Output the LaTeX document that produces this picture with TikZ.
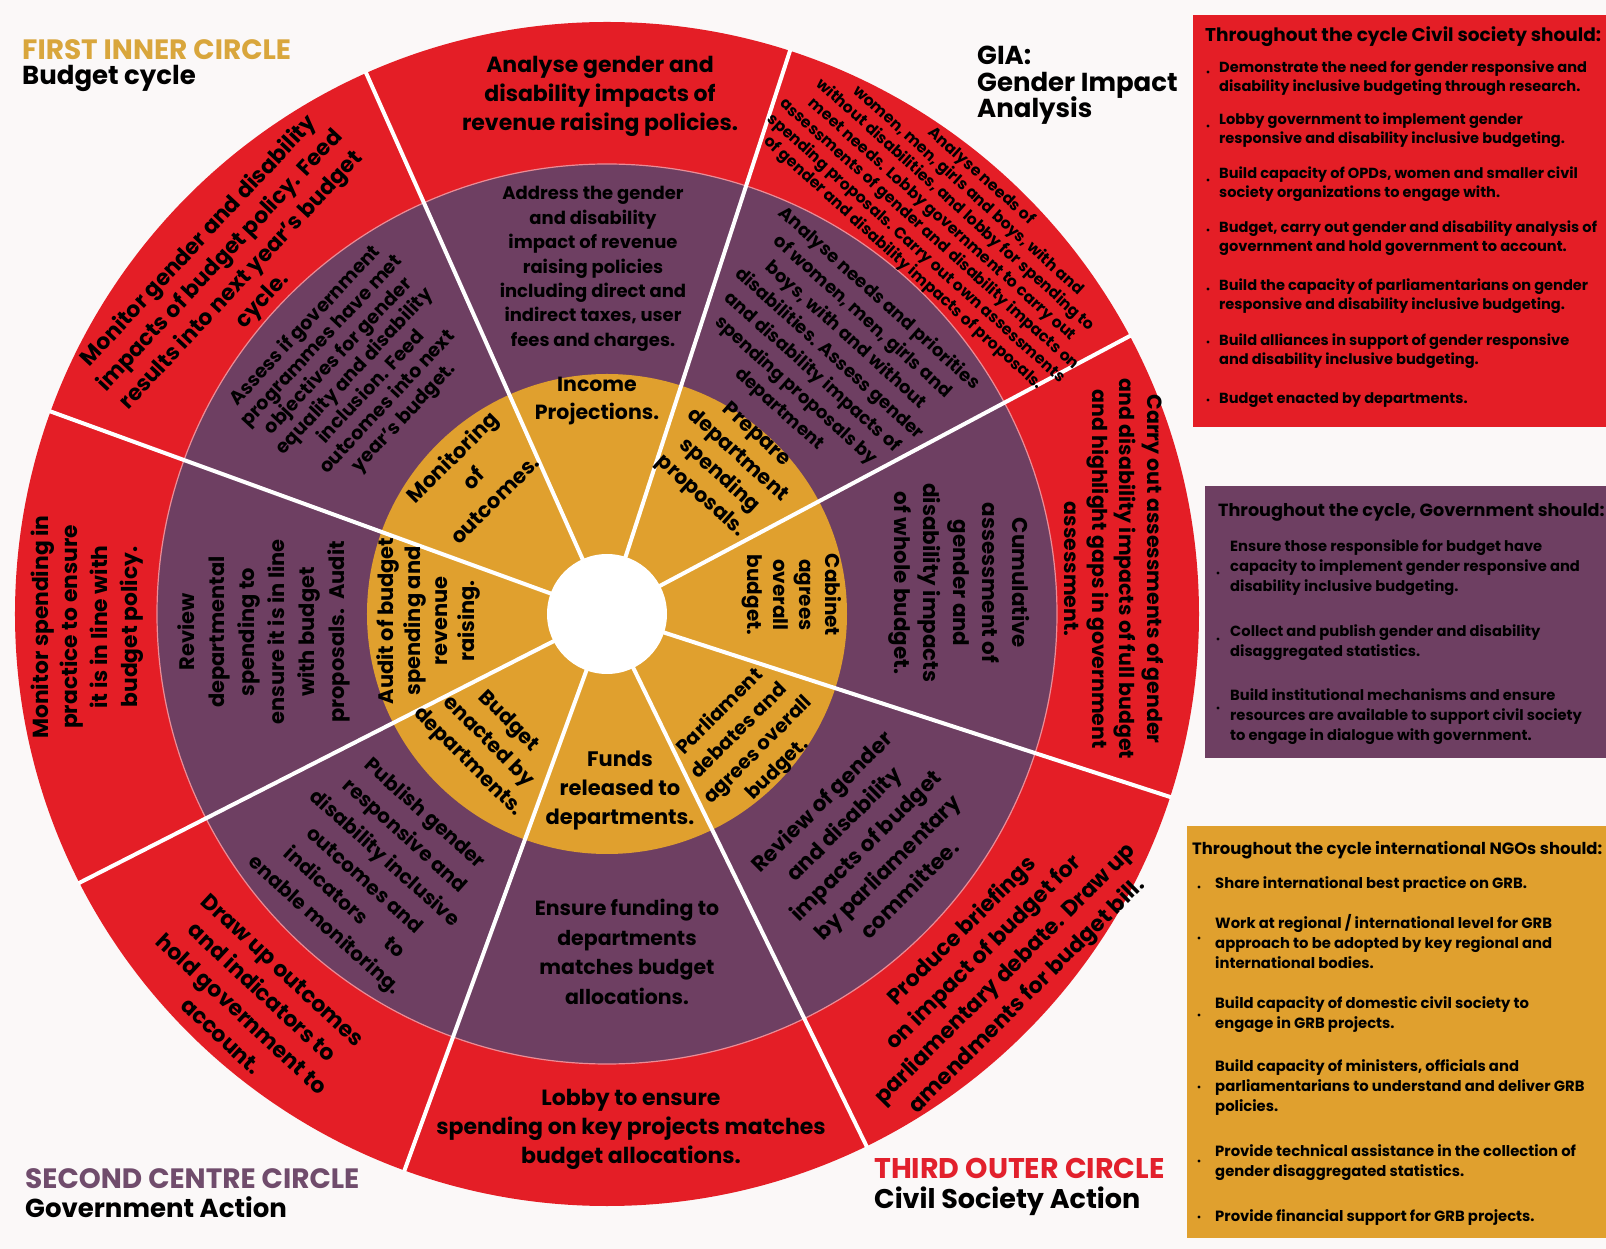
\documentclass[tikz,border=0pt]{standalone}
\usepackage{fontspec}
\setmainfont{Poppins}
\definecolor{bgc}{RGB}{251,248,248}
\definecolor{cred}{RGB}{228,30,38}
\definecolor{cpur}{RGB}{110,63,98}
\definecolor{cgold}{RGB}{224,160,46}
\definecolor{tgold}{RGB}{217,166,60}
\definecolor{tpur}{RGB}{112,76,108}
\definecolor{tred}{RGB}{226,32,44}
\definecolor{ring}{RGB}{236,140,150}
\newcommand\myfs[2]{\fontsize{#1}{#2}\selectfont\bfseries}
\begin{document}
\begin{tikzpicture}[x=1pt,y=1pt,
  lbl/.style={align=center, inner sep=0pt, text=black},
  itm/.style={align=left, inner sep=0pt, anchor=west, text=black},
  ttl/.style={anchor=base west, inner sep=0pt},
  sepline/.style={white, line width=4pt}
]
\fill[bgc] (-607,-635) rectangle (999,614);
\useasboundingbox (-607,-635) rectangle (999,614);
% rings
\fill[cred] (0,0) circle[radius=592];
\fill[cpur] (0,0) circle[radius=450];
\draw[ring, line width=1.2pt] (0,0) circle[radius=450];
\fill[cgold] (0,0) circle[radius=240];
\foreach \a in {28,72,114,160,207,250,296,342} \draw[sepline] (\a:58) -- (\a:593);
\fill[white] (0,0) circle[radius=60];
% side boxes
\fill[cred] (586,187) rectangle (999,599);
\fill[cpur] (598,-144) rectangle (999,128);
\fill[cgold] (580,-624) rectangle (999,-212);

% titles
\node[ttl, text=tgold, font=\myfs{28}{30}] (t1) at (-585,554) {FIRST INNER CIRCLE};
\node[ttl, font=\myfs{26}{30}] (t1b) at (-585,529) {Budget cycle};
\node[ttl, font=\myfs{26}{27}] (gia1) at (370,549) {GIA:};
\node[ttl, font=\myfs{26}{27}] (gia2) at (370,522) {Gender Impact};
\node[ttl, font=\myfs{26}{27}] (gia3) at (370,496) {Analysis};
\node[ttl, text=tpur, font=\myfs{28}{30}] (t2) at (-582,-574) {SECOND CENTRE CIRCLE};
\node[ttl, font=\myfs{26}{30}] (t2b) at (-582,-603) {Government Action};
\node[ttl, text=tred, font=\myfs{28.5}{30}] (t3) at (267,-564) {THIRD OUTER CIRCLE};
\node[ttl, font=\myfs{27}{30}] (t3b) at (267,-594) {Civil Society Action};

% sector 1 (upper right)
\node[lbl, rotate=-42, font=\myfs{15.7}{19.5}] (s1r) at (335,394) {Analyse needs of\\women, men, girls and boys, with and\\without disabilities, and lobby for spending to\\meet needs. Lobby government to carry out\\assessments of gender and disability impacts on\\spending proposals. Carry out own assessments\\of gender and disability impacts of proposals.};
\node[lbl, rotate=-42, font=\myfs{18}{24.8}] (s1p) at (222,260) {Analyse needs and priorities\\of women, men, girls and\\boys, with and without\\disabilities. Assess gender\\and disability impacts of\\spending proposals by\\department};
\node[lbl, rotate=-42, font=\myfs{20.5}{27.6}] (s1g) at (121,148) {Prepare\\department\\spending\\proposals.};
% sector 2 (top)
\node[lbl, font=\myfs{22}{29}] (s2r) at (-7,518) {Analyse gender and\\disability impacts of\\revenue raising policies.};
\node[lbl, font=\myfs{18}{24.4}] (s2p) at (-14,345) {Address the gender\\and disability\\impact of revenue\\raising policies\\including direct and\\indirect taxes, user\\fees and charges.};
\node[lbl, font=\myfs{20.5}{28}] (s2g) at (-10,213) {Income\\Projections.};
% sector 3 (upper left)
\node[lbl, rotate=47, font=\myfs{22}{29}] (s3r) at (-376,343) {Monitor gender and disability\\impacts of budget policy. Feed\\results into next year’s budget\\cycle.};
\node[lbl, rotate=47, font=\myfs{19}{22.5}] (s3p) at (-252,242) {Assess if government\\programmes have met\\objectives for gender\\equality and disability\\inclusion. Feed\\outcomes into next\\year’s budget.};
\node[lbl, rotate=45, font=\myfs{21}{30}] (s3g) at (-134,136) {Monitoring\\of\\outcomes.};
% sector 4 (left)
\node[lbl, rotate=90, font=\myfs{21.8}{29.7}] (s4r) at (-520,-13) {Monitor spending in\\practice to ensure\\it is in line with\\budget policy.};
\node[lbl, rotate=90, font=\myfs{21}{30}] (s4p) at (-343,-18) {Review\\departmental\\spending to\\ensure it is in line\\with budget\\proposals.\ \ Audit};
\node[lbl, rotate=90, font=\myfs{21}{27}] (s4g) at (-179,-7) {Audit of budget\\spending and\\revenue\\raising.};
% sector 5 (lower left)
\node[lbl, rotate=-43, font=\myfs{22}{30}] (s5r) at (-355,-389) {Draw up outcomes\\and indicators to\\hold government to\\account.};
\node[lbl, rotate=-42, font=\myfs{20}{30}] (s5p) at (-233,-256) {Publish gender\\responsive and\\disability inclusive\\outcomes and\\indicators\quad\ \ to\\enable monitoring.};
\node[lbl, rotate=-45, font=\myfs{20.5}{28.6}] (s5g) at (-119,-128) {Budget\\enacted by\\departments.};
% sector 6 (bottom)
\node[lbl, font=\myfs{22}{29}] (s6r) at (24,-515) {Lobby to ensure\\spending on key projects matches\\budget allocations.};
\node[lbl, font=\myfs{20.5}{29.7}] (s6p) at (20,-338) {Ensure funding to\\departments\\matches budget\\allocations.};
\node[lbl, font=\myfs{21}{29}] (s6g) at (13,-177) {Funds\\released to\\departments.};
% sector 7 (lower right)
\node[lbl, rotate=45, font=\myfs{22}{30.5}] (s7r) at (388,-350) {Produce briefings\\on impact of budget for\\parliamentary debate. Draw up\\amendments for budget bill.};
\node[lbl, rotate=45, font=\myfs{21.5}{31}] (s7p) at (258,-231) {Review of gender\\and disability\\impacts of budget\\by parliamentary\\committee.};
\node[lbl, rotate=45, font=\myfs{19.5}{27}] (s7g) at (142,-127) {Parliament\\debates and\\agrees overall\\budget.};
% sector 8 (right)
\node[lbl, rotate=-90, font=\myfs{20.5}{27.7}] (s8r) at (507,45) {Carry out assessments of gender\\and disability impacts of full budget\\and highlight gaps in government\\assessment.};
\node[lbl, rotate=-90, font=\myfs{21.4}{29.5}] (s8p) at (352,31) {Cumulative\\assessment of\\gender and\\disability impacts\\of whole budget.};
\node[lbl, rotate=-90, font=\myfs{20}{26}] (s8g) at (185,19) {Cabinet\\agrees\\overall\\budget.};

% red box
\node[ttl, font=\myfs{18.5}{20}] (rh) at (598,572) {Throughout the cycle Civil society should:};
\node[itm, font=\myfs{14.6}{19.5}] (r1) at (612,536) {Demonstrate the need for gender responsive and\\disability inclusive budgeting through research.};
\node[itm, font=\myfs{14.6}{19.5}] (r2) at (612,484) {Lobby government to implement gender\\responsive and disability inclusive budgeting.};
\node[itm, font=\myfs{14.6}{19.5}] (r3) at (612,430) {Build capacity of OPDs, women and smaller civil\\society organizations to engage with.};
\node[itm, font=\myfs{14.6}{19.5}] (r4) at (612,376) {Budget, carry out gender and disability analysis of\\government and hold government to account.};
\node[itm, font=\myfs{14.6}{19.5}] (r5) at (612,318) {Build the capacity of parliamentarians on gender\\responsive and disability inclusive budgeting.};
\node[itm, font=\myfs{14.6}{19.5}] (r6) at (612,263) {Build alliances in support of gender responsive\\and disability inclusive budgeting.};
\node[itm, font=\myfs{14.6}{19.5}] (r7) at (612,214) {Budget enacted by departments.};
\foreach \y in {542,488,434,384,325,272,214} \fill (601,\y) circle[radius=1.6];

% purple box
\node[ttl, font=\myfs{17.6}{20}] (ph) at (611,97) {Throughout the cycle, Government should:};
\node[itm, font=\myfs{14.7}{20}] (p1) at (623,46) {Ensure those responsible for budget have\\capacity to implement gender responsive and\\disability inclusive budgeting.};
\node[itm, font=\myfs{14.7}{20}] (p2) at (623,-29) {Collect and publish gender and disability\\disaggregated statistics.};
\node[itm, font=\myfs{14.7}{20}] (p3) at (623,-103) {Build institutional mechanisms and ensure\\resources are available to support civil society\\to engage in dialogue with government.};
\foreach \y in {41,-25,-94} \fill (611,\y) circle[radius=1.6];

% gold box
\node[ttl, font=\myfs{16.4}{20}] (gh) at (585,-241) {Throughout the cycle international NGOs should:};
\node[itm, font=\myfs{14.8}{20}] (g1) at (608,-271) {Share international best practice on GRB.};
\node[itm, font=\myfs{14.8}{20}] (g2) at (608,-328) {Work at regional / international level for GRB\\approach to be adopted by key regional and\\international bodies.};
\node[itm, font=\myfs{14.8}{20}] (g3) at (608,-401) {Build capacity of domestic civil society to\\engage in GRB projects.};
\node[itm, font=\myfs{14.8}{20}] (g4) at (608,-474) {Build capacity of ministers, officials and\\parliamentarians to understand and deliver GRB\\policies.};
\node[itm, font=\myfs{14.8}{20}] (g5) at (608,-549) {Provide technical assistance in the collection of\\gender disaggregated statistics.};
\node[itm, font=\myfs{14.8}{20}] (g6) at (608,-604) {Provide financial support for GRB projects.};
\foreach \y in {-273,-324,-401,-473,-547,-603} \fill (592,\y) circle[radius=1.6];
\end{tikzpicture}
\end{document}
